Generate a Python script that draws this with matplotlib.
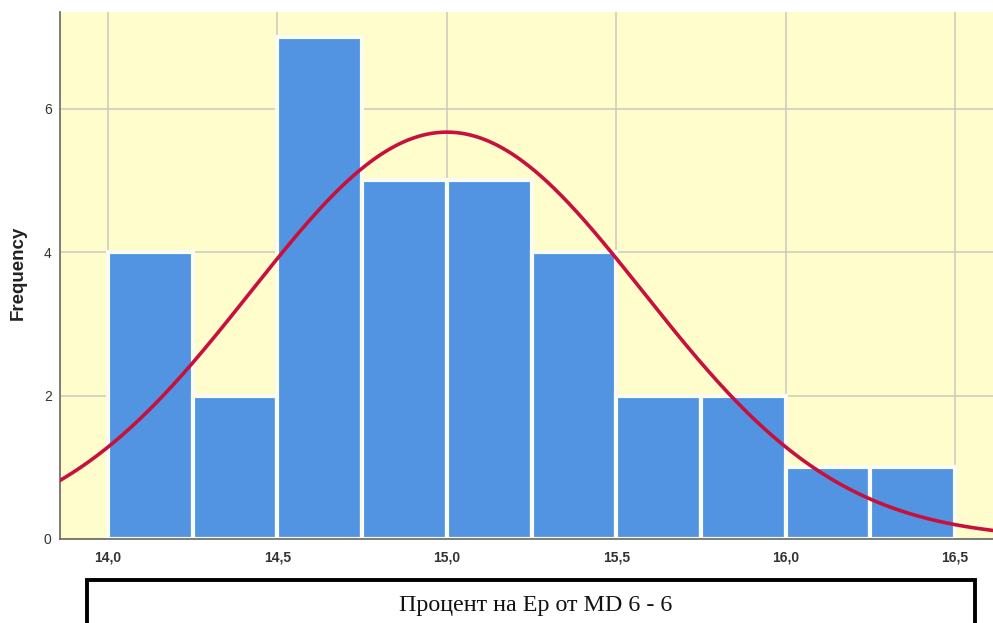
import numpy as np
import matplotlib
matplotlib.use("Agg")
import matplotlib.pyplot as plt
from matplotlib.patches import Rectangle

# Histogram of the percentage values (bin width 0.25)
bin_edges = [14.0, 14.25, 14.5, 14.75, 15.0, 15.25, 15.5, 15.75, 16.0, 16.25, 16.5]
counts = [4, 2, 7, 5, 5, 4, 2, 2, 1, 1]

# Normal curve parameters
mean_val = 15.0
std_val = 0.58

x_ticks = [14.0, 14.5, 15.0, 15.5, 16.0, 16.5]
x_tick_labels = ["14,0", "14,5", "15,0", "15,5", "16,0", "16,5"]
y_ticks = [0, 2, 4, 6]
y_tick_labels = ["0", "2", "4", "6"]

x_label = "Процент на Ер от MD 6 - 6"
y_label = "Frequency"

fig = plt.figure(figsize=(9.93, 6.23), dpi=100)
ax = fig.add_axes([60 / 993, 84 / 623, 1 - 60 / 993, (539 - 12) / 623])
ax.set_facecolor("#fffdcc")

edges = np.array(bin_edges)
widths = np.diff(edges)
ax.bar(edges[:-1], counts, width=widths, align="edge",
       color="#5294e2", edgecolor="#fbfcf0", linewidth=3.0, zorder=2)

xs = np.linspace(13.8, 16.7, 600)
n = sum(counts)
bw = widths[0]
pdf = n * bw / (std_val * np.sqrt(2 * np.pi)) * np.exp(-0.5 * ((xs - mean_val) / std_val) ** 2)
ax.plot(xs, pdf, color="#c8103c", linewidth=2.6, zorder=3)

ax.set_xlim(13.858, 16.612)
ax.set_ylim(0, 7.35)

ax.set_xticks(x_ticks)
ax.set_xticklabels(x_tick_labels, fontsize=10, fontweight="bold",
                   color="#333333", family="Liberation Sans")
ax.set_yticks(y_ticks)
ax.set_yticklabels(y_tick_labels, fontsize=10, color="#333333",
                   family="Liberation Sans")
ax.tick_params(axis="both", length=0)
ax.tick_params(axis="y", pad=6)
ax.tick_params(axis="x", pad=8)

ax.grid(True, color="#cacabc", linewidth=1.1, zorder=0)
ax.set_axisbelow(True)

for side in ("top", "right"):
    ax.spines[side].set_visible(False)
for side in ("left", "bottom"):
    ax.spines[side].set_color("#666666")
    ax.spines[side].set_linewidth(1.2)

fig.text(18 / 993, (623 - 273) / 623, y_label, rotation=90, ha="center",
         va="center", fontsize=13.5, fontweight="bold", family="Liberation Sans",
         color="#222222")

# Boxed axis title below the chart
box = Rectangle((87 / 993, -0.1), (975 - 87) / 993, 0.1 + (623 - 580) / 623,
                transform=fig.transFigure, fill=False, edgecolor="black",
                linewidth=2.8, clip_on=False)
fig.patches.append(box)
fig.text(536 / 993, (623 - 605) / 623, x_label, ha="center", va="center",
         fontsize=17.3, family="Liberation Serif", color="#111111")

fig.savefig("out.png", dpi=100)
